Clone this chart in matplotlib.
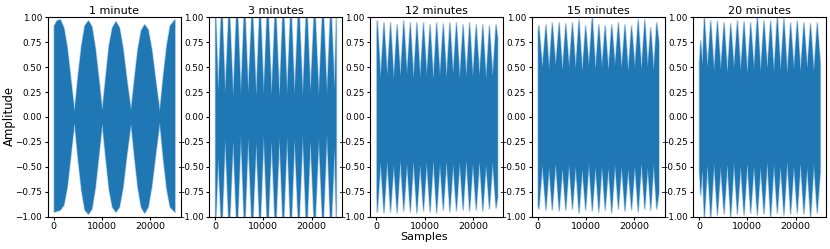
import numpy as np
import matplotlib
matplotlib.use("Agg")
import matplotlib.pyplot as plt

# envelope vertices (sample index, upper / lower amplitude)
titles = ["1 minute", "3 minutes", "12 minutes", "15 minutes", "20 minutes"]

x1 = [0, 600, 1270, 2000, 2700, 3450, 4200, 4900, 5650, 6350, 7080, 7800, 8500, 9250, 9950,
      10650, 11350, 12050, 12760, 13500, 14250, 15050, 15900, 16600, 17300, 18000, 18710,
      19450, 20200, 21000, 21850, 22550, 23300, 24000, 24999]
top1 = [0.92, 0.97, 0.98, 0.90, 0.70, 0.38, 0.06, 0.40, 0.72, 0.92, 0.97, 0.91, 0.70, 0.38, 0.07,
        0.40, 0.72, 0.90, 0.96, 0.90, 0.69, 0.37, 0.07, 0.38, 0.68, 0.87, 0.93,
        0.88, 0.68, 0.37, 0.06, 0.40, 0.72, 0.92, 0.98]
bot1 = [-0.95, -0.94, -0.93, -0.88, -0.70, -0.38, -0.05, -0.40, -0.73, -0.93, -0.97, -0.92, -0.71, -0.38, -0.06,
        -0.40, -0.72, -0.90, -0.95, -0.90, -0.70, -0.37, -0.06, -0.39, -0.70, -0.90, -0.96,
        -0.90, -0.69, -0.37, -0.05, -0.40, -0.72, -0.90, -0.95]

x2 = [0, 550, 1280, 2000, 2830, 3660, 4450, 5250, 6010, 6770, 7600, 8430, 9200, 9980, 10790, 11600,
      12410, 13230, 14020, 14820, 15600, 16370, 17210, 18060, 18850, 19650, 20510, 21380, 22220,
      23070, 23860, 24650, 24999]
top2 = [1.12, 0.25, 1.18, 0.24, 1.15, 0.20, 1.20, 0.23, 1.17, 0.25, 1.15, 0.21, 1.18, 0.24, 1.20, 0.22,
        1.16, 0.20, 1.18, 0.24, 1.15, 0.23, 1.19, 0.21, 1.17, 0.25, 1.16, 0.22, 1.18,
        0.23, 1.15, 0.27, 1.05]
bot2 = [-1.12, -0.40, -1.17, -0.21, -1.16, -0.23, -1.19, -0.18, -1.15, -0.21, -1.18, -0.25, -1.16, -0.18, -1.20, -0.23,
        -1.17, -0.21, -1.15, -0.19, -1.19, -0.21, -1.16, -0.18, -1.18, -0.23, -1.17, -0.21, -1.15,
        -0.16, -1.18, -0.30, -1.08]

x3 = [0, 100, 780, 1470, 2150, 2830, 3510, 4190, 4880, 5560, 6240, 6920, 7600, 8290, 8970, 9650,
      10330, 11010, 11700, 12380, 13060, 13740, 14430, 15110, 15790, 16470, 17160, 17840, 18520,
      19200, 19880, 20560, 21250, 21930, 22610, 23290, 23980, 24660, 24999]
top3 = [0.85, 0.97, 0.40, 0.95, 0.42, 0.95, 0.38, 0.93, 0.41, 0.97, 0.43, 0.95, 0.39, 0.95, 0.40, 0.95,
        0.42, 0.93, 0.38, 0.95, 0.41, 0.94, 0.40, 0.95, 0.43, 0.95, 0.39, 0.93, 0.41,
        0.95, 0.40, 0.93, 0.42, 0.93, 0.38, 0.92, 0.41, 0.93, 0.80]
bot3 = [-0.80, -0.95, -0.45, -0.96, -0.44, -0.95, -0.47, -0.96, -0.43, -0.94, -0.46, -0.95, -0.44, -0.96, -0.47, -0.94,
        -0.45, -0.95, -0.43, -0.96, -0.46, -0.93, -0.44, -0.95, -0.47, -0.94, -0.45, -0.93, -0.43,
        -0.94, -0.46, -0.93, -0.44, -0.94, -0.47, -0.92, -0.45, -0.91, -0.80]

x4 = [0, 150, 880, 1615, 2265, 2914, 3630, 4350, 5035, 5719, 6400, 7087, 7770, 8455, 9140, 9823,
      10505, 11191, 11875, 12559, 13210, 13859, 14545, 15227, 15910, 16595, 17280, 17963, 18645,
      19331, 20015, 20699, 21385, 22067, 22680, 23298, 23915, 24529, 24999]
top4 = [0.85, 0.92, 0.50, 0.93, 0.48, 0.95, 0.52, 0.95, 0.47, 0.94, 0.50, 0.95, 0.49, 0.98, 0.46, 0.92,
        0.51, 1.02, 0.48, 0.93, 0.50, 0.92, 0.47, 0.93, 0.52, 0.95, 0.49, 0.93, 0.46,
        0.92, 0.50, 0.98, 0.48, 0.98, 0.51, 0.90, 0.47, 0.95, 0.75]
bot4 = [-0.88, -0.92, -0.48, -0.93, -0.50, -0.93, -0.46, -0.94, -0.51, -0.93, -0.47, -0.92, -0.49, -0.96, -0.52, -0.93,
        -0.46, -0.94, -0.50, -0.95, -0.48, -0.93, -0.51, -0.96, -0.47, -0.92, -0.49, -0.94, -0.52,
        -0.93, -0.48, -0.95, -0.46, -0.92, -0.50, -0.93, -0.47, -0.92, -0.75]

x5 = [0, 250, 620, 1000, 1670, 2335, 3020, 3712, 4400, 5089, 5780, 6466, 7150, 7843, 8530, 9220,
      9910, 10597, 11290, 11974, 12660, 13351, 14040, 14728, 15420, 16105, 16790, 17482, 18170,
      18859, 19550, 20236, 20920, 21613, 22300, 22990, 23680, 24367, 24999]
top5 = [0.55, 0.77, 0.52, 1.02, 0.50, 0.97, 0.46, 0.97, 0.48, 0.95, 0.45, 0.94, 0.49, 0.97, 0.47, 0.96,
        0.44, 0.95, 0.48, 1.02, 0.46, 0.97, 0.49, 0.97, 0.45, 1.02, 0.47, 0.99, 0.44,
        0.95, 0.48, 0.97, 0.46, 0.95, 0.49, 0.94, 0.45, 0.95, 0.55]
bot5 = [-0.55, -0.78, -0.52, -1.02, -0.48, -1.02, -0.46, -0.98, -0.50, -0.97, -0.47, -1.01, -0.45, -0.97, -0.49, -0.98,
        -0.46, -0.96, -0.48, -0.98, -0.50, -0.97, -0.45, -1.01, -0.47, -0.96, -0.49, -0.98, -0.44,
        -0.97, -0.48, -0.96, -0.46, -0.97, -0.50, -1.01, -0.47, -0.96, -0.55]

xs = [x1, x2, x3, x4, x5]
tops = [top1, top2, top3, top4, top5]
bots = [bot1, bot2, bot3, bot4, bot5]

fig, axes = plt.subplots(1, 5, figsize=(8.3, 2.49), dpi=100)
plt.subplots_adjust(left=0.0575, right=0.995, bottom=0.13, top=0.9305, wspace=0.214)

for ax, t, x, up, lo in zip(axes, titles, xs, tops, bots):
    # soft fringe like the dense waveform edges, then the solid body
    ax.fill_between(x, lo, up, color='C0', alpha=0.35, linewidth=1.2, edgecolor='C0')
    ax.fill_between(x, lo, up, color='C0', linewidth=0)
    ax.set_ylim(-1, 1)
    ax.set_yticks(np.arange(-1, 1.01, 0.25))
    ax.set_xticks([0, 10000, 20000])
    ax.set_title(t, fontsize=8, pad=2.5)
    ax.tick_params(axis='x', labelsize=6.8, length=2.5, pad=1.5)
    ax.tick_params(axis='y', labelsize=6.3, length=2.5, pad=1.5)

fig.text(0.011, 0.535, 'Amplitude', rotation=90, ha='center', va='center', fontsize=8.4)
fig.text(0.5105, 0.048, 'Samples', ha='center', va='center', fontsize=8)

plt.savefig('out.png')
